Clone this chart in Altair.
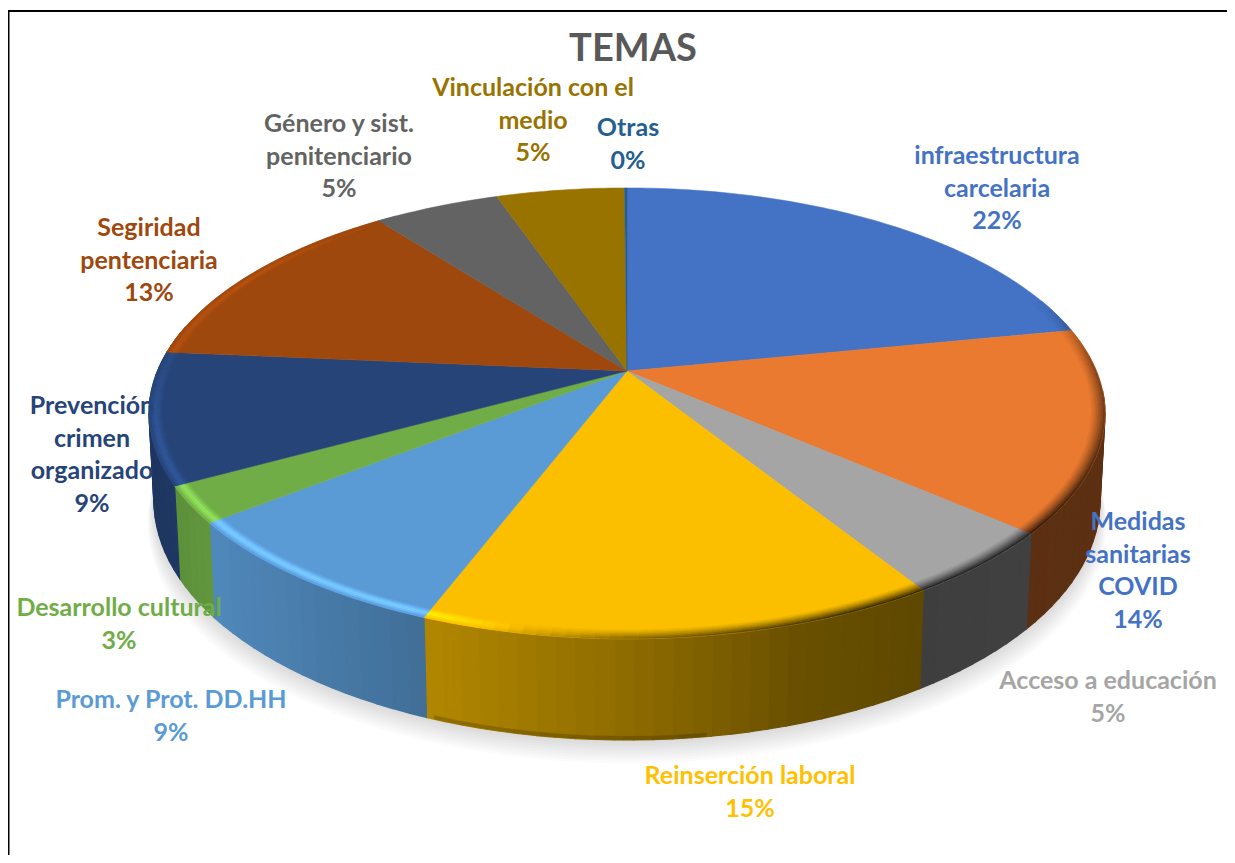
import numpy as np
import altair as alt

NAMES = ["infraestructura\ncarcelaria", "Medidas\nsanitarias\nCOVID", "Acceso a educación",
         "Reinserción laboral", "Prom. y Prot. DD.HH", "Desarrollo cultural",
         "Prevención\ncrimen\norganizado", "Segiridad\npentenciaria",
         "Género y sist.\npenitenciario", "Vinculación con el\nmedio", "Otras"]
PERCENT_LABELS = [22, 14, 5, 15, 9, 3, 9, 13, 5, 5, 0]
VALUES = [21.9, 14.5, 4.7, 14.7, 8.6, 2.6, 9.4, 13.2, 5.1, 5.2, 0.1]
SLICE_COLORS = ["#4472c4", "#ea7a30", "#a5a5a5", "#fbbf00", "#5b9bd5", "#70ad47",
                "#264478", "#9e480e", "#636363", "#997300", "#255e91"]
LABEL_COLORS = ["#4472c4", "#4472c4", "#a5a5a5", "#ffc000", "#5b9bd5", "#70ad47",
                "#264478", "#9e480e", "#636363", "#997300", "#255e91"]
LABEL_POS = [(989, 148), (1130, 514), (1100, 673), (742, 768), (163, 692), (111, 600),
             (84, 398), (141, 220), (331, 116), (525, 80), (620, 120)]
TITLE = "TEMAS"

CX, CY = 619.0, 363.0
A, B, K = 469.5, 217.5, 0.188
DEPTH = 85.0


def ev(t, r=1.0, drop=0.0):
    # coordinates relative to the pie's centre, y up (reflectY projection)
    u, v = r * np.sin(np.radians(t)), r * np.cos(np.radians(t))
    d = 1 + K * v
    return [float(A * u / d), float(B * v / d - drop / d)]


def hexrgb(c):
    return np.array([int(c[i:i + 2], 16) for i in (1, 3, 5)], dtype=float)


def tohex(rgb):
    return "#" + "".join(f"{int(np.clip(x, 0, 255)):02x}" for x in rgb)


def feat(ring, color):
    ring = [list(p) for p in ring]
    ring.append(ring[0])
    return {"type": "Feature", "properties": {"c": color},
            "geometry": {"type": "Polygon", "coordinates": [ring]}}


def arange(a, b, step=1.5):
    n = max(1, int(np.ceil((b - a) / step)))
    return list(np.linspace(a, b, n + 1))


edges = np.concatenate([[0], np.cumsum(VALUES)]) / sum(VALUES) * 360

# soft shadow
shadow = []
for i in range(9, 0, -1):
    pts = [(p[0] * (1 + i * 0.0015), p[1] - i * 2.6)
           for p in (ev(t, 0.99, DEPTH) for t in arange(0, 360, 3))]
    shadow.append(feat(pts, "#000000"))

# wall
wall = []
for i, col in enumerate(SLICE_COLORS):
    a, b = max(edges[i], 95), min(edges[i + 1], 282)
    if b <= a:
        continue
    ts = arange(a, b, 2.0)
    base = hexrgb(col)
    for t0, t1 in zip(ts[:-1], ts[1:]):
        xm = ev((t0 + t1) / 2)[0] + CX + 8
        m = float(np.interp(xm, [150, 212, 424, 650, 800, 915, 1110],
                            [.80, .88, .71, .55, .42, .38, .40]))
        wall.append(feat([ev(t0), ev(t1), ev(t1, .99, DEPTH), ev(t0, .99, DEPTH)], tohex(base * m)))
wall_edge = []
edge_ts = arange(max(edges[3], 172), min(edges[4], 200), 3)
for t0, t1 in zip(edge_ts[:-1], edge_ts[1:]):
    xm = ev((t0 + t1) / 2)[0] + CX + 8
    m = float(np.interp(xm, [424, 650, 800], [.71, .55, .42]))
    wall_edge.append(feat([ev(t0, .99, DEPTH - 3), ev(t1, .99, DEPTH - 3),
                           ev(t1, .99, DEPTH), ev(t0, .99, DEPTH)], tohex(hexrgb(SLICE_COLORS[3]) * m * .82)))

# top faces
top = []
for i, col in enumerate(SLICE_COLORS):
    pts = [[0.0, 0.0]] + [ev(t) for t in arange(edges[i], edges[i + 1], 1.0)]
    top.append(feat(pts, col))

# bevel along the rim
SH_T = [70, 88, 130, 155, 180, 195, 360]
SH_V = [0, .40, .75, .75, .45, 0, 0]
HL_T = [0, 190, 203, 235, 255, 272, 300, 325, 360]
HL_V = [0, 0, .32, .30, .25, .12, .16, 0, 0]
TRI = [.25, .65, 1, 1, .6, .2]
RS = np.linspace(.972, 1, 7)
bevel = []
for i, col in enumerate(SLICE_COLORS):
    base = hexrgb(col)
    ts = arange(edges[i], edges[i + 1], 1.5)
    for t0, t1 in zip(ts[:-1], ts[1:]):
        tm = (t0 + t1) / 2
        s = float(np.interp(tm, SH_T, SH_V))
        h = float(np.interp(tm, HL_T, HL_V))
        if s == 0 and h == 0:
            continue
        for j in range(6):
            m = 1 - s * ((j + 1) / 6) ** 1.3 + h * TRI[j]
            bevel.append(feat([ev(t0, RS[j]), ev(t1, RS[j]), ev(t1, RS[j + 1]), ev(t0, RS[j + 1])],
                              tohex(base * m)))


def geo(features, **kw):
    data = alt.Data(values=features)
    return alt.Chart(data).mark_geoshape(**kw).encode(
        fill=alt.Fill("properties.c:N", scale=None, legend=None),
        stroke=alt.Stroke("properties.c:N", scale=None, legend=None),
    ).project(type="identity", scale=1, translate=[CX, CY], reflectY=True)


layers = [
    geo(shadow, fillOpacity=0.017, strokeOpacity=0, strokeWidth=0),
    geo(wall, strokeWidth=1.2),
    geo(wall_edge, strokeWidth=0.3),
    geo(top, strokeWidth=0.5),
    geo(bevel, strokeWidth=0.4),
]

layers.append(alt.Chart(alt.Data(values=[{"a": 1}])).mark_rule(color="#000000", strokeWidth=2).encode(
    x=alt.value(0.5), y=alt.value(3), y2=alt.value(847)))
layers.append(alt.Chart(alt.Data(values=[{"a": 1}])).mark_rule(color="#000000", strokeWidth=2).encode(
    x=alt.value(0), x2=alt.value(1219), y=alt.value(3)))

for name, p, col, (lx, ly) in zip(NAMES, PERCENT_LABELS, LABEL_COLORS, LABEL_POS):
    txt = f"{name}\n{p}%"
    layers.append(alt.Chart(alt.Data(values=[{"t": txt}])).mark_text(
        font="Lato", fontWeight="bold", fontSize=25, color=col, lineBreak="\n", lineHeight=32.5,
        align="center", baseline="middle").encode(text="t:N", x=alt.value(lx), y=alt.value(ly)))

layers.append(alt.Chart(alt.Data(values=[{"t": TITLE}])).mark_text(
    font="Lato", fontWeight="bold", fontSize=38, color="#595959",
    align="center", baseline="middle").encode(text="t:N", x=alt.value(625), y=alt.value(42)))

chart = alt.layer(*layers).properties(
    width=1219, height=847, padding=0, autosize=alt.AutoSizeParams(type="none"), background="white"
).configure_view(stroke=None)

chart.save("out.html", embed_options={"renderer": "svg", "actions": False})
